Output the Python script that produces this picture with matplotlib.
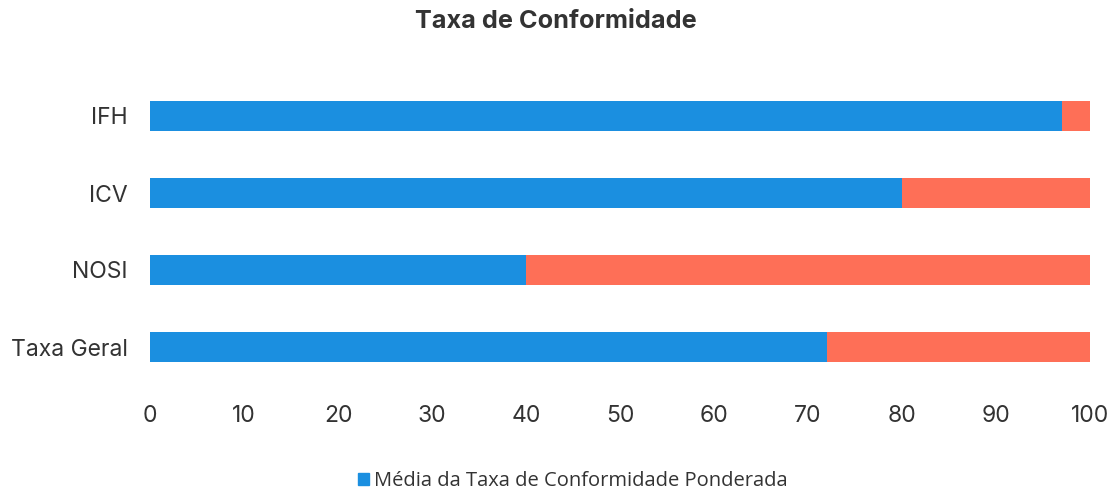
import matplotlib.pyplot as plt
from matplotlib.patches import Patch

# dados
categorias = ["Taxa Geral", "NOSI", "ICV", "IFH"]
media_ponderada = [72, 40, 80, 97]
resto = [100 - v for v in media_ponderada]
xticks = [0, 10, 20, 30, 40, 50, 60, 70, 80, 90, 100]

azul = "#1b8fe0"
salmao = "#fe6f57"
texto = "#333333"

fig = plt.figure(figsize=(11.16, 4.94), dpi=100)
ax = fig.add_axes([150 / 1116, 1 - 385.5 / 494, 940 / 1116, 308 / 494])

y = list(range(len(categorias)))
ax.barh(y, media_ponderada, height=0.39, color=azul)
ax.barh(y, resto, left=media_ponderada, height=0.39, color=salmao)

ax.set_xlim(0, 100)
ax.set_ylim(-0.5, len(categorias) - 0.5)
ax.set_yticks(y)
ax.set_yticklabels(categorias, fontsize=16.5, family="Inter", color=texto)
ax.set_xticks(xticks)
ax.set_xticklabels([str(t) for t in xticks], fontsize=16.5, family="Inter", color=texto)
ax.tick_params(axis="x", length=0, pad=14)
ax.tick_params(axis="y", length=0, pad=16)
for s in ax.spines.values():
    s.set_visible(False)

fig.text(0.498, 1 - 22 / 494, "Taxa de Conformidade", ha="center", va="center",
         fontsize=18.2, fontweight="bold", family="Inter", color=texto)

fig.legend(handles=[Patch(color=azul, label="Média da Taxa de Conformidade Ponderada")],
           loc="center", bbox_to_anchor=(0.513, 1 - 481 / 494), frameon=False,
           prop={"family": "Open Sans", "size": 14.5}, handlelength=0.55, handleheight=0.55,
           handletextpad=0.25, labelcolor=texto)

fig.savefig("out.png", dpi=100)
